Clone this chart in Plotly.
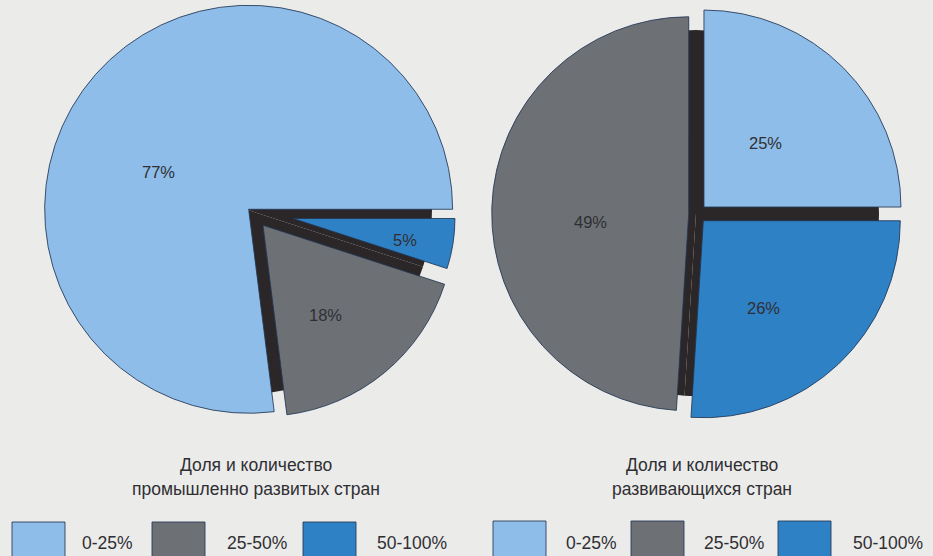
import plotly.graph_objects as go

# --- data -------------------------------------------------------------
categories = ["0-25%", "25-50%", "50-100%"]
developed_values = [77, 18, 5]        # промышленно развитые страны
developing_values = [25, 49, 26]      # развивающиеся страны

titles_developed = ["Доля и количество", "промышленно развитых стран"]
titles_developing = ["Доля и количество", "развивающихся стран"]

# --- styling ----------------------------------------------------------
W, H = 933, 556
COLORS = ["#8ebde9", "#6d7176", "#2f81c6"]
SHADOW = "#2b2729"
OUTLINE = "rgba(35,55,85,0.85)"
BG = "#ebebea"
FONT = "Liberation Sans, Arial, sans-serif"
TEXT_COLOR = "#2f2f33"

# slice geometry in pixels: per-slice (centre x, centre y, radius, pull fraction)
left_slices = [(254, 214, 204, 0.035), (252, 212, 191, 0.09), (252, 212, 162, 0.256)]
left_shadow = (248, 210, 184)

right_slices = [(697, 214, 197, 0.05), (697, 214, 197, 0.042), (697, 214, 197, 0.047)]
right_shadow = (696, 213, 183)

# label anchor points (pixels) for each pie
left_label_pos = [(158, 172), (325, 315), (405, 240)]
right_label_pos = [(765, 143), (590, 222), (763, 308)]


def domain_for(cx, cy, half):
    return dict(x=[(cx - half) / W, (cx + half) / W],
                y=[1 - (cy + half) / H, 1 - (cy - half) / H])


def start_rotation(values):
    # first slice begins at 3 o'clock and the pie runs counterclockwise;
    # plotly lays the first counterclockwise slice clockwise of `rotation`
    return (90 - 360 * values[0] / sum(values)) % 360


def shadow_trace(values, cx, cy, r):
    return go.Pie(
        values=values, labels=categories, sort=False,
        direction="counterclockwise", rotation=start_rotation(values),
        marker=dict(colors=[SHADOW] * len(values), line=dict(width=0)),
        textinfo="none", hoverinfo="skip", showlegend=False,
        domain=domain_for(cx, cy, r),
    )


def slice_trace(values, idx, cx, cy, r, pull):
    n = len(values)
    colors = ["rgba(0,0,0,0)"] * n
    colors[idx] = COLORS[idx]
    widths = [0] * n
    widths[idx] = 1
    pulls = [0] * n
    pulls[idx] = pull
    return go.Pie(
        values=values, labels=categories, sort=False,
        direction="counterclockwise", rotation=start_rotation(values),
        pull=pulls,
        marker=dict(colors=colors, line=dict(color=OUTLINE, width=widths)),
        textinfo="none", hoverinfo="skip", showlegend=False,
        domain=domain_for(cx, cy, r * (1 + pull)),
    )


fig = go.Figure()

fig.add_trace(shadow_trace(developed_values, *left_shadow))
for i, (cx, cy, r, p) in enumerate(left_slices):
    fig.add_trace(slice_trace(developed_values, i, cx, cy, r, p))

fig.add_trace(shadow_trace(developing_values, *right_shadow))
for i, (cx, cy, r, p) in enumerate(right_slices):
    fig.add_trace(slice_trace(developing_values, i, cx, cy, r, p))

annotations = []


def px_annot(text, x, y, size=17.5, anchor="center"):
    annotations.append(dict(
        text=text, x=x / W, y=1 - y / H, xref="paper", yref="paper",
        xanchor=anchor, yanchor="middle", showarrow=False,
        font=dict(family=FONT, size=size, color=TEXT_COLOR),
    ))


# percentage labels on the slices
for v, (x, y) in zip(developed_values, left_label_pos):
    px_annot(f"{v}%", x, y, size=16.5)
for v, (x, y) in zip(developing_values, right_label_pos):
    px_annot(f"{v}%", x, y, size=16.5)

# captions under each pie
for line, y in zip(titles_developed, [465, 489]):
    px_annot(line, 256, y)
for line, y in zip(titles_developing, [465, 489]):
    px_annot(line, 702, y)

# legends: colour swatch + category name
shapes = []
legend_left = dict(swatch_x=[12, 152, 303], text_x=[107, 257, 412], top=522)
legend_right = dict(swatch_x=[493, 631, 778], text_x=[591, 734, 888], top=521)
for lg in (legend_left, legend_right):
    for i, cat in enumerate(categories):
        x0 = lg["swatch_x"][i]
        shapes.append(dict(
            type="rect", xref="paper", yref="paper",
            x0=x0 / W, x1=(x0 + 53) / W,
            y0=1 - (lg["top"] + 53) / H, y1=1 - lg["top"] / H,
            fillcolor=COLORS[i], line=dict(color=OUTLINE, width=1),
        ))
        px_annot(cat, lg["text_x"][i], 543, size=17.5)

fig.update_layout(
    width=W, height=H,
    margin=dict(l=0, r=0, t=0, b=0),
    paper_bgcolor=BG, plot_bgcolor=BG,
    showlegend=False,
    annotations=annotations,
    shapes=shapes,
)

fig.write_html("out.html")
